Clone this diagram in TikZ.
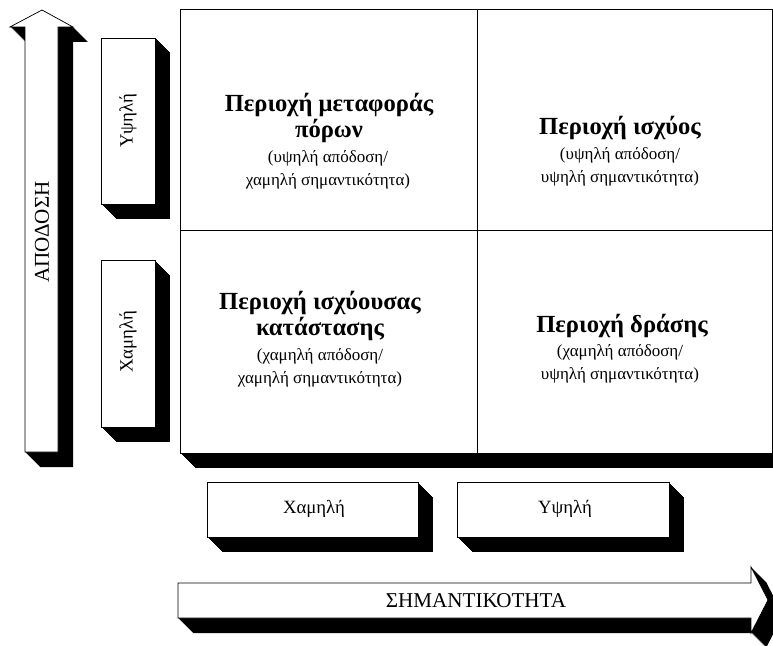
\documentclass[tikz,border=0pt]{standalone}
\usepackage{fontspec}
\setmainfont{Liberation Serif}
\begin{document}
\begin{tikzpicture}[x=0.03cm,y=-0.03cm,
  frame/.style={fill=white,draw=black,line width=0.6pt},
  title/.style={font=\fontsize{21}{23}\selectfont\bfseries,align=center,inner sep=0pt},
  sub/.style={font=\fontsize{14.5}{19.5}\selectfont,align=center,inner sep=0pt},
  tag/.style={font=\fontsize{16}{18}\selectfont,inner sep=0pt},
  axis/.style={font=\fontsize{18}{20}\selectfont,inner sep=0pt}]
\useasboundingbox (0,0) rectangle (773,646);
\clip (0,0) rectangle (773,646);

% extruded shadows
\foreach \s in {0,0.5,...,15} {
  \begin{scope}[shift={(\s,\s)}]
    \fill (25,452) -- (25,27) -- (10,27) -- (42,10) -- (73,27) -- (58,27) -- (58,452) -- cycle;
    \fill (101,38) rectangle (155,204);
    \fill (101,260) rectangle (155,427);
    \fill (180,9) rectangle (772,453);
    \fill (207,482) rectangle (418,537);
    \fill (457,482) rectangle (669,537);
    \fill (178,583) -- (751,583) -- (751,567) -- (768,600) -- (751,633) -- (751,618) -- (178,618) -- cycle;
  \end{scope}
}

% vertical arrow
\draw[frame] (25,452) -- (25,27) -- (10,27) -- (42,10) -- (73,27) -- (58,27) -- (58,452) -- cycle;
\node[axis,rotate=90] (apodosi) at (42,232) {ΑΠΟΔΟΣΗ};

% side boxes
\draw[frame] (101,38) rectangle (155,204);
\node[tag,rotate=90] (ypsili) at (128,121) {Υψηλή};
\draw[frame] (101,260) rectangle (155,427);
\node[tag,rotate=90] (chamili) at (128,342) {Χαμηλή};

% matrix
\draw[frame] (180,9) rectangle (772,453);
\draw[line width=0.6pt] (477,9) -- (477,453);
\draw[line width=0.6pt] (180,230) -- (772,230);

\node[title] (poroi) at (329,118) {Περιοχή μεταφοράς\\πόρων};
\node[sub] (poroisub) at (328,170) {(υψηλή απόδοση/\\χαμηλή σημαντικότητα)};
\node[title] (ischys) at (620,128) {Περιοχή ισχύος};
\node[sub] (ischyssub) at (620,167) {(υψηλή απόδοση/\\υψηλή σημαντικότητα)};
\node[title] (katastasi) at (320,316) {Περιοχή ισχύουσας\\κατάστασης};
\node[sub] (katastasisub) at (320,368) {(χαμηλή απόδοση/\\χαμηλή σημαντικότητα)};
\node[title] (drasi) at (622,326) {Περιοχή δράσης};
\node[sub] (drasisub) at (620,364) {(χαμηλή απόδοση/\\υψηλή σημαντικότητα)};

% bottom boxes
\draw[frame] (207,482) rectangle (418,537);
\node[tag] (low) at (314,509) {Χαμηλή};
\draw[frame] (457,482) rectangle (669,537);
\node[tag] (high) at (565,509) {Υψηλή};

% horizontal arrow
\draw[frame] (178,583) -- (751,583) -- (751,567) -- (768,600) -- (751,633) -- (751,618) -- (178,618) -- cycle;
\node[axis] (simantikotita) at (476,601) {ΣΗΜΑΝΤΙΚΟΤΗΤΑ};
\end{tikzpicture}
\end{document}
